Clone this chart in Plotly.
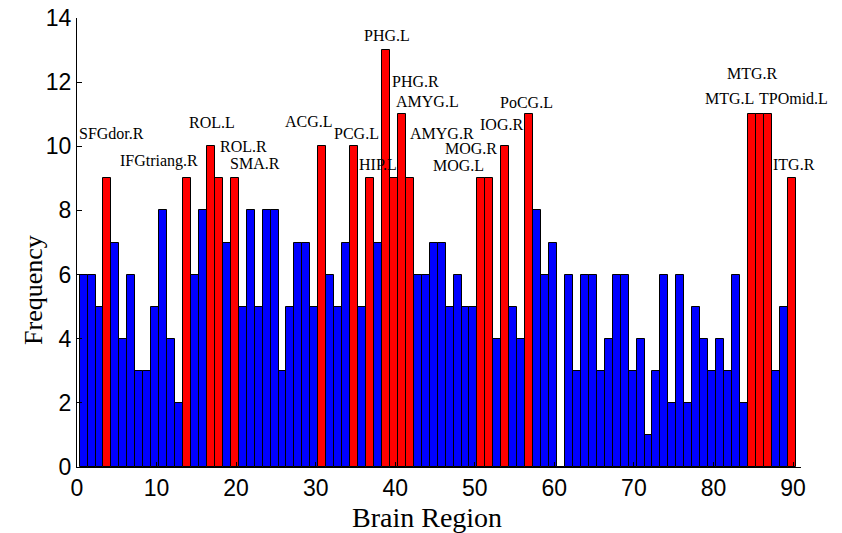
import plotly.graph_objects as go

regions = list(range(1, 91))
frequency = [
    6, 6, 5, 9, 7, 4, 6, 3, 3, 5,
    8, 4, 2, 9, 6, 8, 10, 9, 7, 9,
    5, 8, 5, 8, 8, 3, 5, 7, 7, 5,
    10, 6, 5, 7, 10, 5, 9, 7, 13, 9,
    11, 9, 6, 6, 7, 7, 5, 6, 5, 5,
    9, 9, 4, 10, 5, 4, 11, 8, 6, 7,
    0, 6, 3, 6, 6, 3, 4, 6, 6, 3,
    4, 1, 3, 6, 2, 6, 2, 5, 4, 3,
    4, 3, 6, 2, 11, 11, 11, 3, 5, 9,
]
highlight_regions = [4, 14, 17, 18, 20, 31, 35, 37, 39, 40, 41, 42, 51, 52, 54, 57, 85, 86, 87, 90]
highlight_names = ["SFGdor.R", "IFGtriang.R", "ROL.L", "ROL.R", "SMA.R", "ACG.L", "PCG.L",
                   "HIP.L", "PHG.L", "PHG.R", "AMYG.L", "AMYG.R", "MOG.L", "MOG.R",
                   "IOG.R", "PoCG.L", "MTG.L", "MTG.R", "TPOmid.L", "ITG.R"]
x_ticks = list(range(0, 91, 10))
y_ticks = list(range(0, 15, 2))

# label pixel offsets (style/position only)
label_shift = {
    "SFGdor.R": (-32, 45), "IFGtriang.R": (-70, 17), "ROL.L": (-25, 24), "ROL.R": (-2, 32),
    "SMA.R": (-8, 15), "ACG.L": (-41, 25), "PCG.L": (-23, 13), "HIP.L": (-14, 14),
    "PHG.L": (-25, 15), "PHG.R": (-5, 97), "AMYG.L": (-9, 13), "AMYG.R": (-3, 45),
    "MOG.L": (-52, 13), "MOG.R": (-48, 30), "IOG.R": (-29, 22), "PoCG.L": (-32, 12),
    "MTG.L": (-50, 16), "MTG.R": (-36, 41), "TPOmid.L": (-12, 16), "ITG.R": (-22, 14),
}

colors = ["#FF0000" if r in highlight_regions else "#0000FF" for r in regions]

fig = go.Figure()
fig.add_trace(go.Bar(
    x=regions, y=frequency, width=1, offset=-0.67,
    marker=dict(color=colors, line=dict(color="black", width=1)),
    showlegend=False,
))

serif = "Liberation Serif, Times New Roman, serif"
annotations = []
for r, name in zip(highlight_regions, highlight_names):
    v = frequency[regions.index(r)]
    dx, dy = label_shift[name]
    annotations.append(dict(
        x=r, y=v, xref="x", yref="y", text=name, showarrow=False,
        xanchor="left", yanchor="middle", xshift=dx, yshift=dy,
        font=dict(family=serif, size=16, color="black"),
    ))
annotations.append(dict(
    x=-0.061, y=0.394, xref="paper", yref="paper", text="Frequency", showarrow=False,
    textangle=-90, xanchor="center", yanchor="middle",
    font=dict(family=serif, size=26, color="black"),
))
annotations.append(dict(
    x=0.483, y=-0.112, xref="paper", yref="paper", text="Brain Region", showarrow=False,
    xanchor="center", yanchor="middle",
    font=dict(family=serif, size=28, color="black"),
))

tickfont = dict(family="Liberation Sans, Arial, sans-serif", size=23, color="black")
fig.update_layout(
    width=842, height=533,
    margin=dict(l=77, r=41, t=18, b=66, autoexpand=False),
    paper_bgcolor="white", plot_bgcolor="white",
    bargap=0,
    annotations=annotations,
    xaxis=dict(range=[0, 91], tickvals=x_ticks, ticks="inside", ticklen=5, tickcolor="black",
               showline=True, linecolor="black", linewidth=1, showgrid=False, zeroline=False,
               automargin=False, tickfont=tickfont, ticklabeloverflow="allow"),
    yaxis=dict(range=[0, 14], tickvals=y_ticks, ticks="inside", ticklen=5, tickcolor="black",
               showline=True, linecolor="black", linewidth=1, showgrid=False, zeroline=False,
               automargin=False, tickfont=tickfont, ticklabeloverflow="allow"),
)

fig.write_html(
    "out.html",
    config={"displayModeBar": False},
    post_script="document.body.style.margin='0';document.body.style.overflow='hidden';",
)
